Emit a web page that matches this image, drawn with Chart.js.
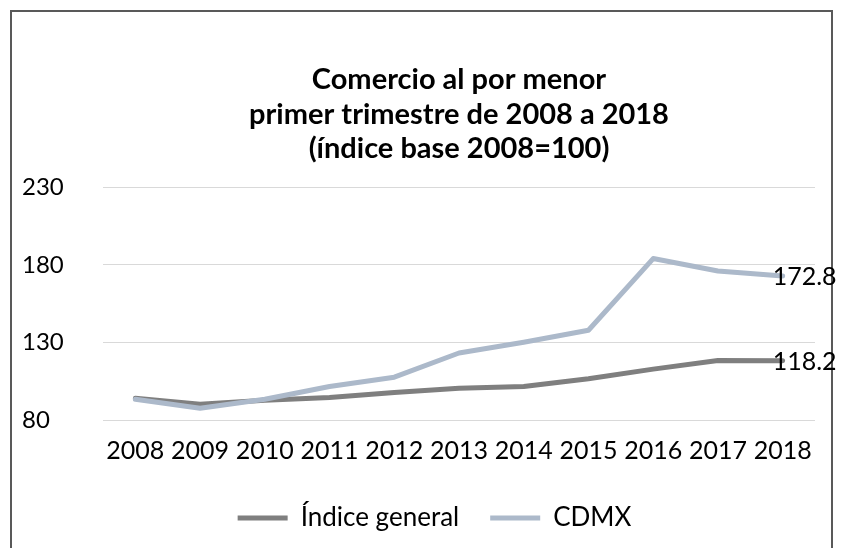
<!DOCTYPE html>
<html>
<head>
<meta charset="utf-8">
<script src="https://cdn.jsdelivr.net/npm/chart.js@4.4.0/dist/chart.umd.min.js"></script>
<style>
  html, body { margin: 0; padding: 0; background: #fff; }
  #wrap { position: relative; width: 847px; height: 548px; }
</style>
</head>
<body>
<div id="wrap"><canvas id="retailChart"></canvas></div>
<script>
// Data
const years = ['2008', '2009', '2010', '2011', '2012', '2013', '2014', '2015', '2016', '2017', '2018'];
const indiceGeneral = [94.0, 90.2, 92.8, 94.5, 97.7, 100.5, 101.6, 106.6, 112.8, 118.4, 118.2];
const cdmx = [93.4, 87.6, 93.4, 101.6, 107.6, 123.2, 130.1, 137.9, 184.1, 176.1, 172.8];
const yTicks = [80, 130, 180, 230];
const titleLines = ['Comercio al por menor', 'primer trimestre de 2008 a 2018', '(índice base 2008=100)'];

Chart.defaults.font.family = 'Lato, "Open Sans", sans-serif';
Chart.defaults.color = '#000';

// White background and the dark frame round the chart
const chartFrame = {
    id: 'chartFrame',
    beforeDraw(chart) {
        const ctx = chart.ctx;
        ctx.save();
        ctx.fillStyle = '#fff';
        ctx.fillRect(0, 0, chart.width, chart.height);
        ctx.strokeStyle = '#595959';
        ctx.lineWidth = 2;
        ctx.strokeRect(11, 11, 821, 560);
        ctx.restore();
    }
};

// Value label next to the last point of each line
const endLabels = {
    id: 'endLabels',
    afterDatasetsDraw(chart) {
        const ctx = chart.ctx;
        ctx.save();
        ctx.font = '25px ' + Chart.defaults.font.family;
        ctx.fillStyle = '#000';
        ctx.textAlign = 'left';
        ctx.textBaseline = 'middle';
        chart.data.datasets.forEach((ds, i) => {
            const meta = chart.getDatasetMeta(i);
            const last = meta.data[meta.data.length - 1];
            ctx.fillText(ds.data[ds.data.length - 1].toFixed(1), last.x - 10, last.y + 1);
        });
        ctx.restore();
    }
};

const ctx = document.getElementById('retailChart').getContext('2d');
const retailChart = new Chart(ctx, {
    type: 'line',
    data: {
        labels: years,
        datasets: [{
            label: 'Índice general',
            data: indiceGeneral,
            borderColor: '#7f7f7f',
            backgroundColor: '#7f7f7f',
            borderWidth: 5,
            borderCapStyle: 'round',
            borderJoinStyle: 'round',
            pointRadius: 0,
            order: 1
        }, {
            label: 'CDMX',
            data: cdmx,
            borderColor: '#acb9ca',
            backgroundColor: '#acb9ca',
            borderWidth: 5,
            borderCapStyle: 'round',
            borderJoinStyle: 'round',
            pointRadius: 0,
            order: 0
        }]
    },
    options: {
        responsive: true,
        maintainAspectRatio: false,
        animation: false,
        layout: {
            padding: { left: 22, right: 0, top: 0, bottom: 7 }
        },
        plugins: {
            title: {
                display: true,
                fullSize: false,
                text: titleLines,
                font: { size: 29, weight: 'bold', lineHeight: 1.2 },
                color: '#000',
                padding: { top: 62, bottom: 21 }
            },
            legend: {
                position: 'bottom',
                labels: {
                    usePointStyle: true,
                    pointStyle: 'line',
                    pointStyleWidth: 50,
                    font: { size: 26 },
                    color: '#000',
                    padding: 31,
                    sort: (a, b) => a.datasetIndex - b.datasetIndex
                }
            },
            tooltip: { enabled: false }
        },
        scales: {
            x: {
                offset: true,
                grid: { display: false },
                border: { display: false },
                ticks: {
                    autoSkip: false,
                    maxRotation: 0,
                    padding: 8,
                    font: { size: 25 },
                    color: '#000'
                }
            },
            y: {
                min: 80,
                max: 230,
                afterBuildTicks: axis => {
                    axis.ticks = yTicks.map(v => ({ value: v }));
                },
                afterFit: axis => { axis.width = 81; },
                grid: { color: '#d9d9d9', lineWidth: 1, drawTicks: false },
                border: { display: false },
                ticks: {
                    crossAlign: 'far',
                    padding: 40,
                    font: { size: 24 },
                    color: '#000'
                }
            },
            // empty right axis only keeps room on the right like the original
            yRight: {
                position: 'right',
                grid: { display: false },
                border: { display: false },
                ticks: { display: false },
                afterFit: axis => { axis.width = 32; }
            }
        }
    },
    plugins: [chartFrame, endLabels]
});
</script>
</body>
</html>
